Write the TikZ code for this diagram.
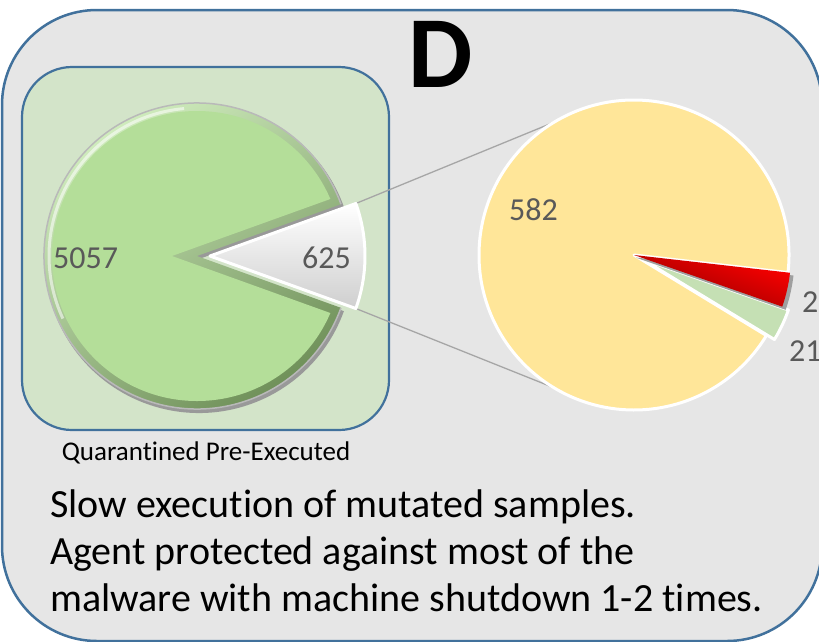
\documentclass[tikz,border=0pt]{standalone}
\usepackage{fontspec}
\setmainfont{Carlito}[Ligatures=NoCommon]
\usetikzlibrary{calc}

\definecolor{frameblue}{HTML}{41719C}
\definecolor{panelgray}{HTML}{E6E6E6}
\definecolor{boxgreen}{HTML}{D3E4C9}
\definecolor{piegreen}{HTML}{B4DE99}
\definecolor{bevellight}{HTML}{D6F2C4}
\definecolor{beveldark}{HTML}{6E8F58}
\definecolor{pieyellow}{HTML}{FFE699}
\definecolor{slicegreen}{HTML}{C5E0B4}
\definecolor{labelgray}{HTML}{595959}
\definecolor{linkgray}{HTML}{A6A6A6}

\tikzset{
  panel/.style={draw=frameblue, fill=panelgray, line width=2.5pt, rounded corners=95pt},
  greenbox/.style={draw=frameblue, fill=boxgreen, line width=2.2pt, rounded corners=50pt},
  datalabel/.style={text=labelgray, font=\fontsize{32}{32}\selectfont, inner sep=0pt},
  bodytext/.style={font=\fontsize{40}{40}\selectfont, inner sep=0pt, anchor=base west},
  connector/.style={draw=linkgray, line width=1.3pt},
  whiteedge/.style={draw=white, line width=3pt, line join=round},
}

\begin{document}
\begin{tikzpicture}[x=1pt,y=1pt]
\useasboundingbox (0,0) rectangle (819,-641);
\clip (0,0) rectangle (819,-641);

% outer panel and the green frame
\path[panel] (2,-10) rectangle (822,-641);
\path[greenbox] (22,-67) rectangle (389,-430);

% title letter
\node[font=\fontsize{102}{102}\selectfont\bfseries, inner sep=0pt, anchor=base] (title) at (441,-87) {D};

% centres of the two pies
\coordinate (lc) at (197,-256);
\coordinate (wc) at (210,-256);
\coordinate (rc) at (634,-255);

% ends of the zoom connectors
\coordinate (wu) at ($(wc)+(19.8:155)$);
\coordinate (wl) at ($(wc)+(-19.8:155)$);
\coordinate (ru) at ($(rc)+(121:155)$);
\coordinate (rl) at ($(rc)+(239:155)$);
\draw[connector] (wu) -- (ru);
\draw[connector] (wl) -- (rl);

% large green slice with bevelled rim
\fill[black!40] ($(lc)+(2,-3)$) -- +(19.8:154) arc[start angle=19.8, end angle=340.2, radius=154] -- cycle;
\shade[top color=bevellight, bottom color=beveldark, shading angle=35]
  (lc) -- +(19.8:153) arc[start angle=19.8, end angle=340.2, radius=153] -- cycle;
\draw[gray!55, line width=1.5pt] ($(lc)+(19.8:153)$) arc[start angle=19.8, end angle=340.2, radius=153];
\begin{scope}
  \clip (lc) circle[radius=145];
  \fill[piegreen] (172,-256) -- +(19.8:320) arc[start angle=19.8, end angle=340.2, radius=320] -- cycle;
\end{scope}
\draw[white, opacity=.55, line width=3pt] ($(lc)+(95:148)$) arc[start angle=95, end angle=205, radius=148];

% exploded grey slice
\shade[top color=white, bottom color=gray!38]
  (wc) -- +(-19.8:155) arc[start angle=-19.8, end angle=19.8, radius=155] -- cycle;
\draw[whiteedge] (wc) -- +(-19.8:155) arc[start angle=-19.8, end angle=19.8, radius=155] -- cycle;

% detail pie
\fill[pieyellow] (rc) -- +(-6.5:155) arc[start angle=-6.5, end angle=328.7, radius=155] -- cycle;
\draw[whiteedge] (rc) -- +(-6.5:155) arc[start angle=-6.5, end angle=328.7, radius=155] -- cycle;
\fill[slicegreen] (642,-259) -- +(-31.3:155) arc[start angle=-31.3, end angle=-19.2, radius=155] -- cycle;
\draw[whiteedge] (642,-259) -- +(-31.3:155) arc[start angle=-31.3, end angle=-19.2, radius=155] -- cycle;
\fill[gray!75] ($(rc)+(1.5,-2.5)$) -- +(-19.2:159) arc[start angle=-19.2, end angle=-6.5, radius=159] -- cycle;
\shade[top color=red, bottom color=red!55!black, shading angle=-20]
  (rc) -- +(-19.2:157) arc[start angle=-19.2, end angle=-6.5, radius=157] -- cycle;

% data labels
\node[datalabel, anchor=base west] (n5057) at (53,-268) {5057};
\node[datalabel, anchor=base east] (n625) at (351,-268) {625};
\node[datalabel, anchor=base west] (n582) at (509,-220) {582};
\node[datalabel, anchor=base west] (n22) at (802,-312) {22};
\node[datalabel, anchor=base west] (n21) at (789,-361) {21};

% captions
\node[font=\fontsize{27}{27}\selectfont, inner sep=0pt, anchor=base] (caption) at (206,-460) {Quarantined Pre-Executed};
\node[bodytext] (line1) at (50,-517) {Slow execution of mutated samples.};
\node[bodytext] (line2) at (50,-564) {Agent protected against most of the};
\node[bodytext] (line3) at (50,-611) {malware with machine shutdown 1-2 times.};
\end{tikzpicture}
\end{document}
